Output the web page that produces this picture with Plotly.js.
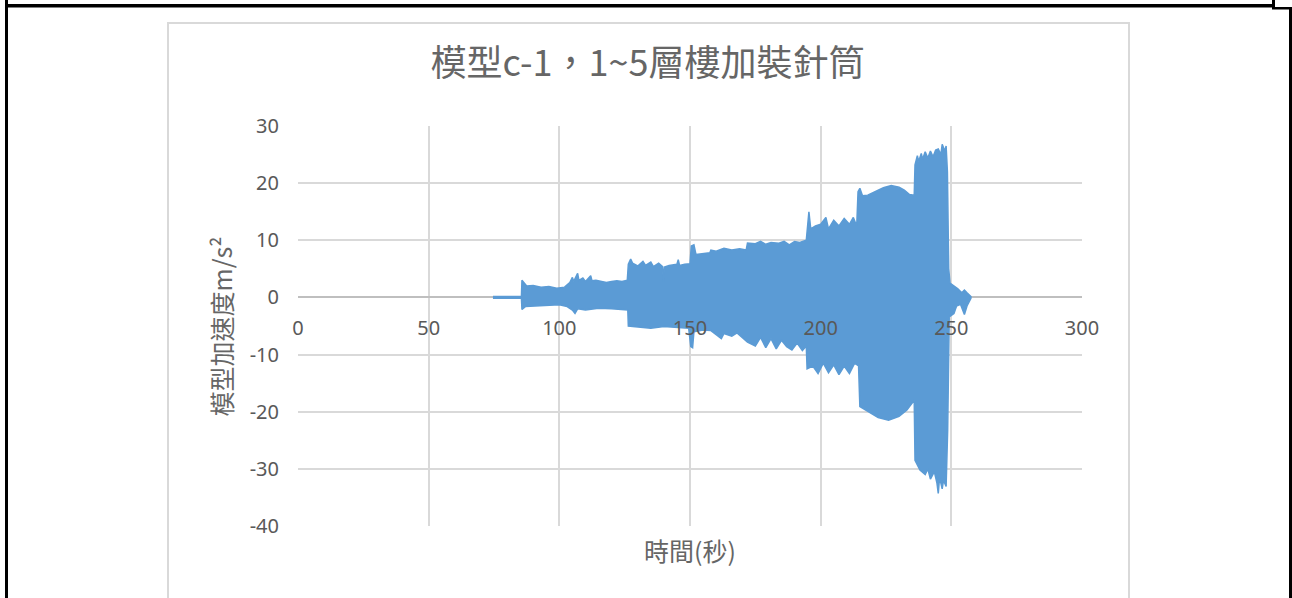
<!DOCTYPE html>
<html>
<head>
<meta charset="utf-8">
<script src="https://cdn.plot.ly/plotly-3.0.1.min.js"></script>
<style>html,body{margin:0;padding:0;background:#fff;}#chart{width:1292px;height:598px;}</style>
</head>
<body>
<div id="chart"></div>
<script>
// ---- data (time in s, acceleration in m/s^2) ----
const chartTitle = "模型c-1，1~5層樓加裝針筒";
const xTitle = "時間(秒)";
const yTitle = "模型加速度m/s²";
const xTicks = [0, 50, 100, 150, 200, 250, 300];
const yTicks = [-40, -30, -20, -10, 0, 10, 20, 30];

// upper envelope of the oscillation
const upperT = [74.6, 85.5, 85.7, 86.5, 87.5, 90, 93, 96, 99, 102, 104, 105, 105.5, 107, 107.5, 109, 110, 112, 112.5, 114, 116, 118, 120, 122, 124, 126,
  126.4, 127.3, 128, 130, 132, 133, 135, 136, 138, 139.5, 139.8, 140.2, 142, 145, 145.5, 146, 148, 150, 150.5, 151.5, 152.3, 155, 157.6, 158, 160, 163, 166, 169, 171.5,
  172, 175, 177, 179, 181, 184, 186, 188, 190, 192, 194.5, 194.8, 195.5, 196.2, 198, 200, 202, 203, 205, 207, 209, 211, 212.5, 213.8,
  214.3, 215, 216, 218, 221, 224, 227, 230, 232, 234, 235.8, 236.1, 237, 237.5, 238.5, 239, 240, 241, 242, 243, 244, 245, 246, 246.5, 247.5, 248, 248.5, 249, 249.5, 251, 252.5, 254, 255, 256, 257.5];
const upperV = [0.15, 0.15, 3.0, 2.6, 2.0, 2.1, 1.8, 1.9, 1.6, 1.8, 2.6, 3.5, 2.8, 4.2, 3.0, 3.4, 2.8, 3.8, 2.9, 3.0, 2.8, 2.6, 2.8, 2.9, 2.8, 3.0,
  5.8, 6.7, 6.0, 5.5, 6.3, 5.6, 6.2, 5.4, 6.0, 5.4, 2.7, 5.3, 5.6, 5.8, 6.6, 5.6, 5.8, 5.9, 9.0, 9.2, 7.5, 7.7, 7.8, 8.3, 8.1, 8.6, 8.3, 8.5, 8.3,
  9.5, 9.4, 9.8, 9.3, 9.6, 9.5, 9.8, 9.2, 9.8, 9.6, 10.0, 11.8, 15.0, 12.0, 12.5, 12.8, 14.0, 12.0, 13.5, 12.5, 13.8, 12.8, 14.0, 12.5,
  18.5, 19.1, 17.8, 17.9, 18.6, 19.2, 19.6, 19.3, 18.8, 18.0, 17.9, 23.2, 24.8, 23.8, 25.2, 24.2, 25.5, 24.4, 25.6, 24.6, 25.8, 26.0, 25.0, 26.8, 25.6, 26.5, 22.0, 5.0, 2.5, 2.0, 1.5, 0.8, 1.3, 0.8, 0.15];

// lower envelope of the oscillation
const lowerT = [74.6, 85.5, 85.7, 87, 90, 95, 100, 103, 105, 106, 107, 110, 115, 120, 124, 126.2,
  126.4, 130, 135, 140, 145, 149.5, 150.3, 151, 151.5, 155, 158, 160, 162, 163, 166, 168, 170,
  172, 175, 177, 179, 181, 183, 185, 187, 189, 191, 193, 194.5, 194.8, 197, 199, 201, 203, 205, 207, 209, 211, 213, 214.5,
  215, 218, 222, 226, 230, 233, 235.8, 236.1, 238, 240, 241, 242, 243.5, 244.5, 245, 245.5, 246.5, 247, 248, 248.6, 249.2, 251, 252, 253.5, 255, 256, 257.5];
const lowerV = [-0.15, -0.15, -2.1, -1.6, -1.6, -1.4, -1.3, -1.6, -2.2, -2.8, -2.0, -2.2, -1.9, -2.0, -2.1, -2.2,
  -5.0, -5.2, -5.4, -5.1, -5.2, -5.4, -8.6, -8.8, -6.0, -5.7, -5.8, -6.5, -7.2, -6.3, -6.8, -6.2, -7.0,
  -7.8, -8.5, -7.0, -8.8, -7.2, -9.0, -7.5, -8.6, -9.2, -8.0, -9.3, -8.5, -12.5, -12.0, -13.3, -11.5, -13.2, -11.8, -13.5, -12.0, -13.3, -11.5, -12.0,
  -19.1, -20.0, -21.0, -21.5, -20.8, -19.7, -18.0, -28.5, -30.2, -31.0, -30.0, -31.8, -30.5, -32.5, -34.3, -31.5, -33.5, -32.0, -33.1, -23.2, -3.4, -2.8, -1.5, -1.2, -3.0, -1.5, -0.15];

// ---- geometry helpers (pixel -> paper) ----
const W = 1292, H = 598;
const M = {l: 298, r: 210, t: 126, b: 72};
const PW = W - M.l - M.r, PH = H - M.t - M.b;
const px = x => (x - M.l) / PW;
const py = y => (H - M.b - y) / PH;

const polyX = upperT.concat(lowerT.slice().reverse());
const polyY = upperV.concat(lowerV.slice().reverse());

const blue = '#5b9bd5';
const grey = '#595959';

const trace = {
  x: polyX, y: polyY, type: 'scatter', mode: 'lines',
  fill: 'toself', fillcolor: blue,
  line: {color: blue, width: 1.5},
  hoverinfo: 'skip', showlegend: false
};

function rectPx(x0, y0, x1, y1, color) {
  return {type: 'rect', xref: 'paper', yref: 'paper', x0: px(x0), x1: px(x1), y0: py(y0), y1: py(y1),
    fillcolor: color, line: {width: 0}, layer: 'above'};
}

const shapes = [
  // chart area border
  {type: 'rect', xref: 'paper', yref: 'paper', x0: px(168), x1: px(1129), y0: py(640), y1: py(23),
   line: {color: '#d9d9d9', width: 2}, fillcolor: 'rgba(0,0,0,0)', layer: 'below'},
  // document table borders
  rectPx(5, 4, 1275, 7.5, '#000'),
  rectPx(1272, 0, 1275, 7.5, '#000'),
  rectPx(1272, 7, 1292, 9.5, '#000'),
  rectPx(1289, 7, 1292, 598, '#000'),
  rectPx(5, 0, 8, 598, '#000')
];

const fontFam = '"Noto Sans", "Noto Sans CJK TC", sans-serif';
const cjkFam = '"Noto Sans CJK TC", "Noto Sans", sans-serif';

const layout = {
  width: W, height: H,
  margin: M,
  paper_bgcolor: '#fff', plot_bgcolor: '#fff',
  showlegend: false,
  title: {text: chartTitle, xref: 'paper', yref: 'paper', x: px(647.5), y: py(71), xanchor: 'center', yanchor: 'middle',
    font: {family: cjkFam, size: 36, color: '#666666'}},
  xaxis: {
    range: [0, 300], tickvals: xTicks, ticktext: xTicks.map(String),
    showgrid: true, gridcolor: '#d9d9d9', gridwidth: 2,
    zeroline: false, showline: false, ticks: '',
    anchor: 'free', position: 40 / 70,
    ticklabelstandoff: 17,
    tickfont: {family: fontFam, size: 20, color: grey},
    fixedrange: true
  },
  yaxis: {
    range: [-40, 30], tickvals: yTicks, ticktext: yTicks.map(String),
    showgrid: true, gridcolor: '#d9d9d9', gridwidth: 2,
    zeroline: true, zerolinecolor: '#bfbfbf', zerolinewidth: 2,
    showline: false, ticks: '',
    ticklabelstandoff: 18,
    tickfont: {family: fontFam, size: 20, color: grey},
    fixedrange: true
  },
  annotations: [
    {text: xTitle, xref: 'paper', yref: 'paper', x: px(689.5), y: py(550), xanchor: 'center', yanchor: 'middle',
     showarrow: false, font: {family: cjkFam, size: 25, color: '#666666'}},
    {text: yTitle, xref: 'paper', yref: 'paper', x: px(220), y: py(326.5), xanchor: 'center', yanchor: 'middle',
     textangle: -90, showarrow: false, font: {family: cjkFam, size: 25, color: '#666666'}}
  ],
  shapes: shapes
};

Plotly.newPlot('chart', [trace], layout, {displayModeBar: false, staticPlot: true});
</script>
</body>
</html>
